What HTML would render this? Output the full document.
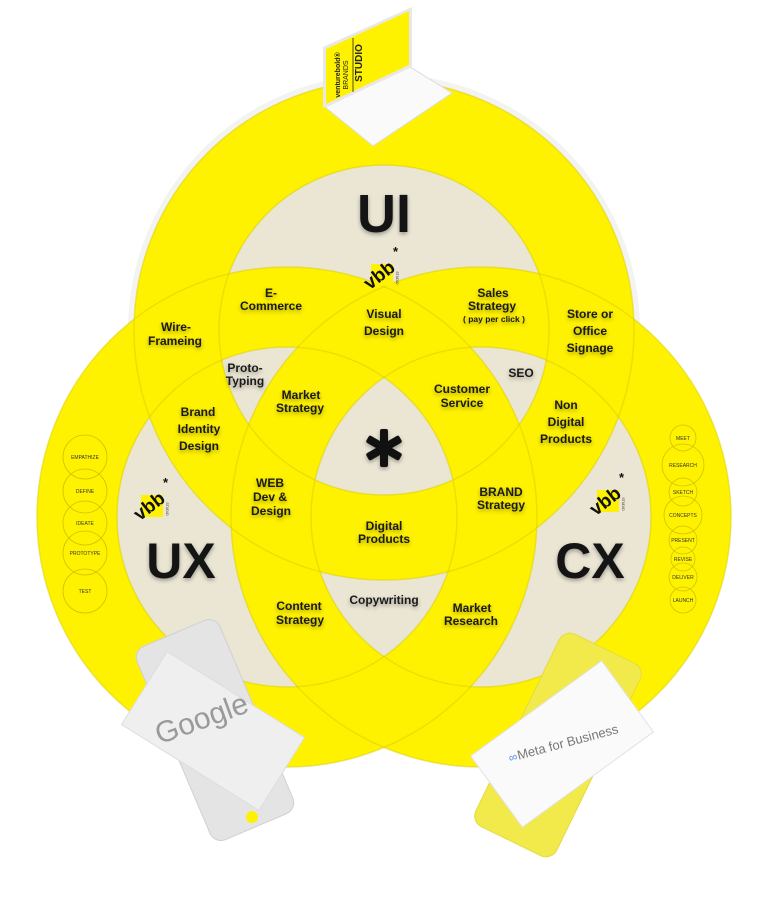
<!DOCTYPE html>
<html><head><meta charset="utf-8"><style>
html,body{margin:0;padding:0;background:#fff;}
svg{display:block;}
.t{font-family:"Liberation Sans",sans-serif;font-weight:bold;font-size:12px;fill:#1a1a1a;text-anchor:middle;}
.sm{font-family:"Liberation Sans",sans-serif;font-size:5px;fill:#333;text-anchor:middle;}
.big{font-family:"Liberation Sans",sans-serif;font-weight:900;fill:#141414;text-anchor:middle;}
.sh{filter:drop-shadow(0 2px 2px rgba(0,0,0,.35));}
</style></head><body>
<svg width="768" height="899" viewBox="0 0 768 899" xmlns="http://www.w3.org/2000/svg">
<defs>
<g id="vbb">
  <rect x="-10" y="-10" width="22" height="22" fill="#fff200"/>
  <text x="-2" y="6" transform="rotate(-38)" style="font-family:'Liberation Sans',sans-serif;font-weight:bold;font-size:19px;fill:#111;text-anchor:middle">vbb</text>
  <text x="12" y="-18" style="font-family:'Liberation Sans',sans-serif;font-weight:bold;font-size:13px;fill:#111">*</text>
  <text x="0" y="0" transform="translate(15,4) rotate(90)" style="font-family:'Liberation Sans',sans-serif;font-size:3.5px;fill:#333;text-anchor:middle">STUDIO</text>
</g>
<mask id="bm" maskUnits="userSpaceOnUse" x="0" y="0" width="768" height="899">
  <rect x="0" y="0" width="768" height="899" fill="#000"/>
  <circle cx="384" cy="330" r="165" fill="#fff"/>
  <circle cx="287" cy="517" r="170" fill="#fff"/>
  <circle cx="481" cy="517" r="170" fill="#fff"/>
  <circle cx="384" cy="330" r="207.5" fill="none" stroke="#000" stroke-width="85"/>
  <circle cx="287" cy="517" r="210" fill="none" stroke="#000" stroke-width="80"/>
  <circle cx="481" cy="517" r="210" fill="none" stroke="#000" stroke-width="80"/>
</mask>
</defs>
<circle cx="384" cy="330" r="256" fill="#f3f3f1"/>
<circle cx="384" cy="330" r="250" fill="#fff200"/>
<circle cx="287" cy="517" r="250" fill="#fff200"/>
<circle cx="481" cy="517" r="250" fill="#fff200"/>
<rect x="0" y="0" width="768" height="899" fill="#ebe6d4" mask="url(#bm)"/>
<g fill="none" stroke="#d9cd00" stroke-opacity=".5" stroke-width="1.5">
<circle cx="384" cy="330" r="250"/>
<circle cx="287" cy="517" r="250"/>
<circle cx="481" cy="517" r="250"/>
<circle cx="384" cy="330" r="165"/>
<circle cx="287" cy="517" r="170"/>
<circle cx="481" cy="517" r="170"/>
</g>
<g fill="none" stroke="#cfc300" stroke-width="0.8">
<circle cx="85" cy="457" r="22"/><circle cx="85" cy="491" r="22"/><circle cx="85" cy="523" r="22"/><circle cx="85" cy="553" r="22"/><circle cx="85" cy="591" r="22"/>
<circle cx="683" cy="438" r="13"/><circle cx="683" cy="465" r="21"/><circle cx="683" cy="492" r="14"/><circle cx="683" cy="515" r="19"/><circle cx="683" cy="540" r="14"/><circle cx="683" cy="559" r="12"/><circle cx="683" cy="577" r="14"/><circle cx="683" cy="600" r="13"/>
</g>
<g class="sm">
<text x="85" y="459">EMPATHIZE</text><text x="85" y="493">DEFINE</text><text x="85" y="525">IDEATE</text><text x="85" y="555">PROTOTYPE</text><text x="85" y="593">TEST</text>
<text x="683" y="440">MEET</text><text x="683" y="467">RESEARCH</text><text x="683" y="494">SKETCH</text><text x="683" y="517">CONCEPTS</text><text x="683" y="542">PRESENT</text><text x="683" y="561">REVISE</text><text x="683" y="579">DELIVER</text><text x="683" y="602">LAUNCH</text>
</g>
<use href="#vbb" transform="translate(381,274)"/>
<use href="#vbb" transform="translate(151,505)"/>
<use href="#vbb" transform="translate(607,500)"/>
<g class="sh">
<text class="big" x="384" y="232" font-size="54">UI</text>
<text class="big" x="181" y="578" font-size="50">UX</text>
<text class="big" x="590" y="578" font-size="50">CX</text>
</g>
<g transform="translate(384,448)" fill="#111" class="sh">
<rect x="-4" y="-19" width="8" height="38" rx="2"/>
<rect x="-4" y="-19" width="8" height="38" rx="2" transform="rotate(60)"/>
<rect x="-4" y="-19" width="8" height="38" rx="2" transform="rotate(-60)"/>
</g>
<g class="t sh">
<text x="271" y="297">E-</text><text x="271" y="310">Commerce</text>
<text x="384" y="318">Visual</text><text x="384" y="335">Design</text>
<text x="493" y="297">Sales</text><text x="492" y="310">Strategy</text><text x="494" y="322" font-size="8.5">( pay per click )</text>
<text x="176" y="331">Wire-</text><text x="175" y="345">Frameing</text>
<text x="590" y="318">Store or</text><text x="590" y="335">Office</text><text x="590" y="352">Signage</text>
<text x="245" y="372">Proto-</text><text x="245" y="385">Typing</text>
<text x="521" y="377">SEO</text>
<text x="301" y="399">Market</text><text x="300" y="412">Strategy</text>
<text x="462" y="393">Customer</text><text x="462" y="407">Service</text>
<text x="198" y="416">Brand</text><text x="199" y="433">Identity</text><text x="199" y="450">Design</text>
<text x="566" y="409">Non</text><text x="566" y="426">Digital</text><text x="566" y="443">Products</text>
<text x="270" y="487">WEB</text><text x="270" y="501">Dev &amp;</text><text x="271" y="515">Design</text>
<text x="501" y="496">BRAND</text><text x="501" y="509">Strategy</text>
<text x="384" y="530">Digital</text><text x="384" y="543">Products</text>
<text x="299" y="610">Content</text><text x="300" y="624">Strategy</text>
<text x="384" y="604">Copywriting</text>
<text x="472" y="612">Market</text><text x="471" y="625">Research</text>
</g>
<g>
<polygon points="325,107 410,67 452,93 373,146" fill="#fafafa" stroke="#dcdcdc" stroke-width="1"/>
<polygon points="323,47 412,7 412,67 323,108" fill="#e8e8e8"/>
<polygon points="326,49 409,11 409,65 326,104" fill="#fff200"/>
<line x1="353" y1="38" x2="353" y2="92" stroke="#222" stroke-width="0.8"/>
<text transform="translate(340,75) rotate(-90)" style="font-family:'Liberation Sans',sans-serif;font-weight:bold;font-size:7px;fill:#222;text-anchor:middle">venturebold®</text>
<text transform="translate(348,75) rotate(-90)" style="font-family:'Liberation Sans',sans-serif;font-size:7px;fill:#222;text-anchor:middle">BRANDS</text>
<text transform="translate(362,63) rotate(-90)" style="font-family:'Liberation Sans',sans-serif;font-weight:bold;font-size:10px;fill:#222;text-anchor:middle">STUDIO</text>
</g>
<g transform="translate(215,730) rotate(-23)">
<rect x="-45" y="-105" width="90" height="210" rx="12" fill="#e4e4e4" stroke="#d0d0d0"/>
</g>
<circle cx="252" cy="817" r="6" fill="#fff200"/>
<g transform="translate(213,731) rotate(32)">
<rect x="-81" y="-43" width="162" height="86" fill="#efefef" stroke="#ddd"/>
</g>
<text transform="translate(205,728) rotate(-20)" style="font-family:'Liberation Sans',sans-serif;font-size:30px;fill:#9a9a9a;text-anchor:middle">Google</text>
<g transform="translate(558,745) rotate(26)">
<rect x="-45" y="-107" width="90" height="214" rx="12" fill="#f2e94a" stroke="#e4db40"/>
</g>
<g transform="translate(562,744) rotate(-36)">
<rect x="-81" y="-44" width="162" height="88" fill="#fafafa" stroke="#e2e2e2"/>
</g>
<g transform="translate(562,744) rotate(-15)">
<text x="-55" y="4" style="font-family:'Liberation Sans',sans-serif;font-size:12px;fill:#5b8de8">∞</text>
<text x="6" y="4" style="font-family:'Liberation Sans',sans-serif;font-size:13px;fill:#777;text-anchor:middle">Meta for Business</text>
</g>
</svg>
</body></html>
